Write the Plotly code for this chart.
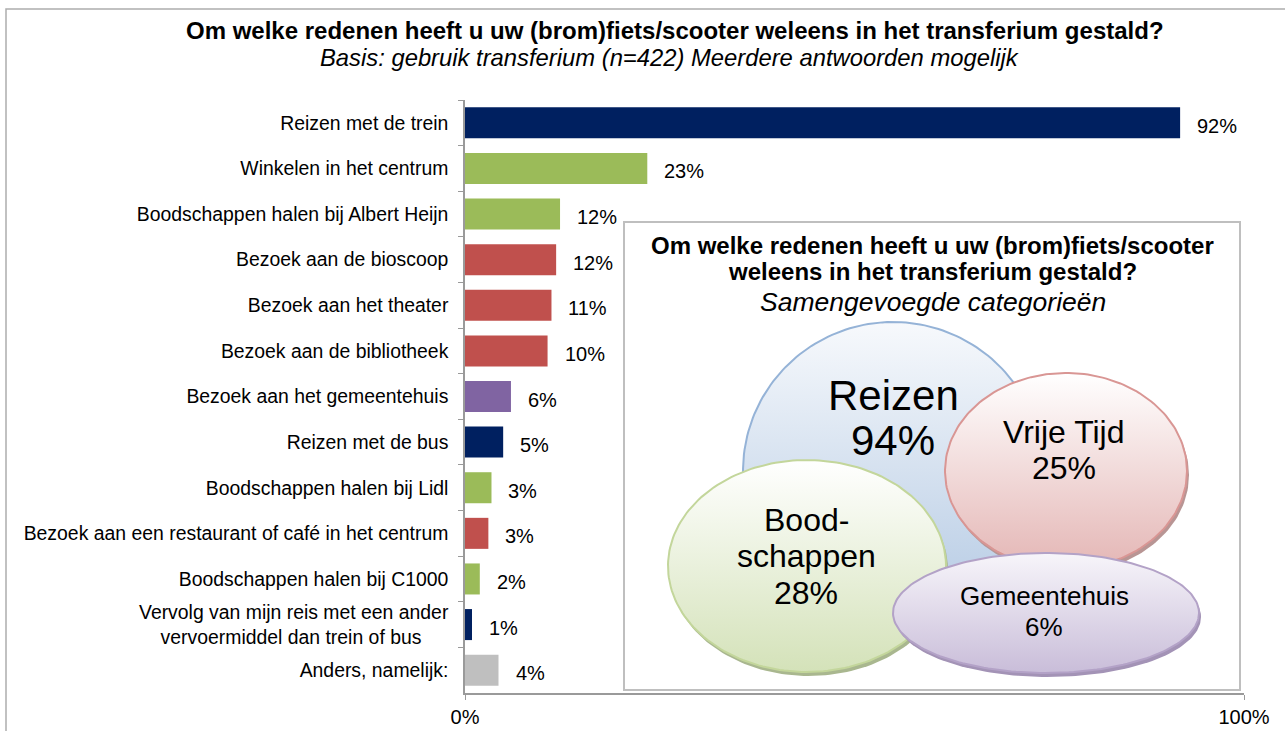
import numpy as np
import plotly.graph_objects as go

# ---------------- data ----------------
categories = [
    "Reizen met de trein",
    "Winkelen in het centrum",
    "Boodschappen halen bij Albert Heijn",
    "Bezoek aan de bioscoop",
    "Bezoek aan het theater",
    "Bezoek aan de bibliotheek",
    "Bezoek aan het gemeentehuis",
    "Reizen met de bus",
    "Boodschappen halen bij Lidl",
    "Bezoek aan een restaurant of café in het centrum",
    "Boodschappen halen bij C1000",
    "Vervolg van mijn reis met een ander<br>vervoermiddel dan trein of bus\u00a0\u00a0\u00a0\u00a0\u00a0",
    "Anders, namelijk:",
]
values = [91.8, 23.4, 12.2, 11.7, 11.1, 10.6, 5.9, 4.9, 3.4, 3.0, 1.9, 0.9, 4.3]
labels = ["92%", "23%", "12%", "12%", "11%", "10%", "6%", "5%", "3%", "3%", "2%", "1%", "4%"]
groups = ["reizen", "boodschappen", "boodschappen", "vrije", "vrije", "vrije",
          "gemeente", "reizen", "boodschappen", "vrije", "boodschappen", "reizen", "anders"]

xtick_vals = [0, 100]
xtick_text = ["0%", "100%"]

venn_names = [["Reizen"], ["Vrije Tijd"], ["Bood-", "schappen"], ["Gemeentehuis"]]
venn_values = [94, 25, 28, 6]

title = "Om welke redenen heeft u uw (brom)fiets/scooter weleens in het transferium gestald?"
subtitle = "Basis: gebruik transferium (n=422) Meerdere antwoorden mogelijk"
inset_title = ["Om welke redenen heeft u uw (brom)fiets/scooter", "weleens in het transferium gestald?"]
inset_sub = "Samengevoegde categorieën"

# ---------------- styles ----------------
group_colors = {"reizen": "#002060", "boodschappen": "#9BBB59", "vrije": "#C0504D",
                "gemeente": "#8064A2", "anders": "#BFBFBF"}
bar_colors = [group_colors[g] for g in groups]
FONT = "Liberation Sans, Arial, sans-serif"
AXC = "#9A9A9A"

W, H = 1285, 731
L, R, T, B = 465, 1244, 100, 693
PW, PH = R - L, B - T


def px(x):
    return (x - L) / PW


def py(y):
    return (B - y) / PH


fig = go.Figure()
fig.add_trace(go.Bar(
    y=categories, x=values, orientation="h",
    marker=dict(color=bar_colors, line=dict(width=0)),
    hoverinfo="skip", showlegend=False,
))

annotations = []
for c, v, t in zip(categories, values, labels):
    annotations.append(dict(x=v, y=c, xref="x", yref="y", text=t, showarrow=False,
                            xanchor="left", xshift=15, yshift=-3,
                            font=dict(family=FONT, size=20, color="black")))

# ---------------- inset (merged categories) ----------------
# ellipse geometry in pixel coordinates: cx, cy, rx, ry
venn_geom = [(893, 471, 150, 149), (1066, 471, 121, 98), (807, 566, 139, 106), (1046, 613, 153, 60)]
venn_fill = ["#B3C9E3", "#E4B6B5", "#D4E2B9", "#C9BDD9"]
venn_top = ["#F7F9FC", "#FFFFFF", "#FFFFFF", "#F7F5FA"]
venn_line = ["#95B3D7", "#D99694", "#C3D69B", "#B3A2C7"]
venn_shadow = ["#8FA4BF", "#B89594", "#A9B78F", "#A393B6"]
venn_text_size = [42, 32, 32, 26]
venn_text_x = [893, 1064, 806, 1044]
venn_text_y = [[395, 440], [432, 468], [520, 556, 593], [596, 627]]

t = np.linspace(0, 2 * np.pi, 200)
for (cx, cy, rx, ry), fc, tc, lc, sc in zip(venn_geom, venn_fill, venn_top, venn_line, venn_shadow):
    xs = cx + rx * np.cos(t)
    ys = cy + ry * np.sin(t)
    fig.add_trace(go.Scatter(x=xs + 2, y=ys + 4, xaxis="x2", yaxis="y2", mode="lines",
                             fill="toself", fillcolor=sc, line=dict(width=0, color=sc),
                             hoverinfo="skip", showlegend=False))
    fig.add_trace(go.Scatter(x=xs, y=ys, xaxis="x2", yaxis="y2", mode="lines",
                             fill="toself",
                             fillgradient=dict(type="vertical", colorscale=[[0, tc], [1, fc]],
                                               start=cy - ry, stop=cy + ry),
                             line=dict(width=2, color=lc),
                             hoverinfo="skip", showlegend=False))

for names, val, fs, tx, tys in zip(venn_names, venn_values, venn_text_size, venn_text_x, venn_text_y):
    lines = names + [f"{val}%"]
    for line, ty in zip(lines, tys):
        annotations.append(dict(x=tx, y=ty, xref="x2", yref="y2", showarrow=False,
                                xanchor="center", yanchor="middle",
                                text=line, font=dict(family=FONT, size=fs, color="black")))

for line, ty in zip(inset_title, [245, 271]):
    annotations.append(dict(x=932, y=ty, xref="x2", yref="y2", showarrow=False, text=f"<b>{line}</b>",
                            xanchor="center", yanchor="middle",
                            font=dict(family=FONT, size=24, color="black")))
annotations.append(dict(x=933, y=302, xref="x2", yref="y2", showarrow=False, text=f"<i>{inset_sub}</i>",
                        xanchor="center", yanchor="middle",
                        font=dict(family=FONT, size=26.5, color="black")))

# titles
annotations.append(dict(x=px(674.5), y=py(30), xref="paper", yref="paper", showarrow=False,
                        xanchor="center", yanchor="middle",
                        text=f"<b>{title}</b>", font=dict(family=FONT, size=24, color="black")))
annotations.append(dict(x=px(669.5), y=py(58), xref="paper", yref="paper", showarrow=False,
                        xanchor="center", yanchor="middle",
                        text=f"<i>{subtitle}</i>", font=dict(family=FONT, size=23.8, color="black")))

shapes = [
    dict(type="rect", xref="x2", yref="y2", x0=624, x1=1240, y0=222, y1=690,
         line=dict(color="#BFBFBF", width=2), fillcolor="white", layer="below"),
    dict(type="rect", xref="paper", yref="paper", x0=px(6), x1=px(1300), y0=py(9), y1=py(760),
         line=dict(color="#ADADAD", width=1.5), fillcolor="rgba(0,0,0,0)", layer="above"),
]

fig.update_layout(
    width=W, height=H, autosize=False,
    margin=dict(l=L, r=W - R, t=T, b=H - B, pad=0, autoexpand=False),
    paper_bgcolor="white", plot_bgcolor="rgba(0,0,0,0)",
    bargap=0.32,
    font=dict(family=FONT, size=19, color="black"),
    xaxis=dict(range=[0, 100], tickvals=xtick_vals, ticktext=xtick_text, ticks="outside",
               ticklen=5, tickcolor=AXC, showline=True, linecolor=AXC, linewidth=1.5,
               showgrid=True, gridcolor=AXC, gridwidth=1.5, zeroline=False, automargin=False,
               tickfont=dict(family=FONT, size=20, color="black"), ticklabelstandoff=0,
               fixedrange=True),
    yaxis=dict(type="category", autorange="reversed", ticks="outside", tickson="boundaries",
               ticklen=5, tickcolor=AXC, showline=True, linecolor=AXC, linewidth=1.5,
               showgrid=False, tickfont=dict(family=FONT, size=19.4, color="black"),
               ticklabelstandoff=11, fixedrange=True, automargin=False),
    xaxis2=dict(range=[L, R], overlaying="x", anchor="y2", visible=False, fixedrange=True,
                automargin=False),
    yaxis2=dict(range=[B, T], overlaying="y", anchor="x2", visible=False, fixedrange=True,
                automargin=False),
    annotations=annotations,
    shapes=shapes,
    showlegend=False,
)

fig.write_html("out.html", config={"displayModeBar": False, "responsive": False},
               post_script="document.body.style.margin='0';document.body.style.overflow='hidden';")
